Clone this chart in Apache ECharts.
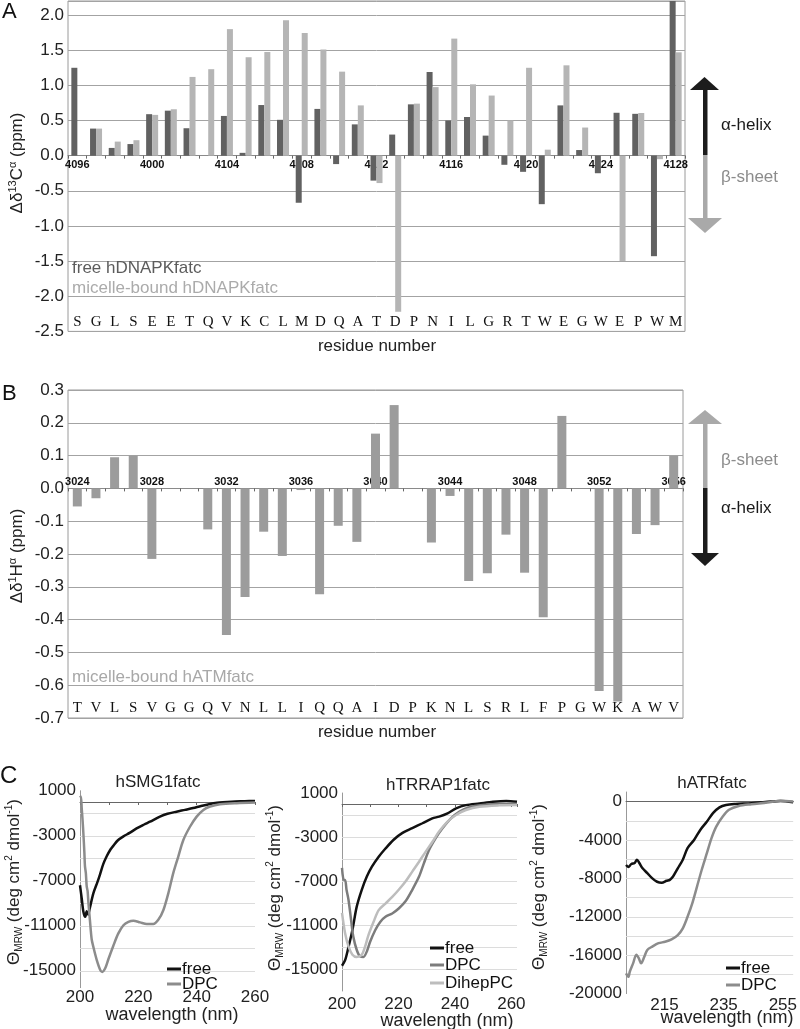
<!DOCTYPE html>
<html><head><meta charset="utf-8">
<script src="https://cdn.jsdelivr.net/npm/echarts@6/dist/echarts.min.js"></script>
<style>html,body{margin:0;padding:0;background:#fff}#c{width:800px;height:1029px}</style>
</head><body><div id="c"></div>
<script>
const FONT = '"Liberation Sans", Arial, sans-serif';
const SERIF = '"Liberation Serif", "DejaVu Serif", serif';

// ---- Panel A ----
const aResidues = ['S','G','L','S','E','E','T','Q','V','K','C','L','M','D','Q','A','T','D','P','N','I','L','G','R','T','W','E','G','W','E','P','W','M'];
const aTickLabels = ['4096','4000','4104','4108','4112','4116','4120','4124','4128'];
const aFree = [1.25,0.385,0.11,0.165,0.59,0.64,0.39,0,0.565,0.04,0.72,0.51,-0.67,0.665,-0.12,0.445,-0.355,0.30,0.73,1.19,0.50,0.55,0.285,-0.13,-0.23,-0.69,0.715,0.08,-0.25,0.61,0.595,-1.43,2.4];
const aMicelle = [0,0.385,0.2,0.22,0.58,0.66,1.12,1.23,1.8,1.4,1.475,1.925,1.745,1.51,1.195,0.715,-0.39,-2.22,0.74,0.975,1.665,1.015,0.855,0.50,1.25,0.085,1.285,0.40,0,-1.5,0.607,-0.05,1.47];

// ---- Panel B ----
const bResidues = ['T','V','L','S','V','G','G','Q','V','N','L','L','I','Q','Q','A','I','D','P','K','N','L','S','R','L','F','P','G','W','K','A','W','V'];
const bTickLabels = ['3024','3028','3032','3036','3040','3044','3048','3052','3056'];
const bMicelle = [-0.055,-0.03,0.095,0.10,-0.215,0,0,-0.125,-0.447,-0.331,-0.132,-0.206,-0.005,-0.323,-0.114,-0.163,0.167,0.254,0,-0.165,-0.023,-0.282,-0.259,-0.141,-0.257,-0.393,0.221,0,-0.618,-0.65,-0.139,-0.112,0.099];

// ---- Panel C ----
const c1Free = [[200,-7400],[200.6,-8600],[201.2,-9800],[201.8,-10200],[202.3,-9700],[202.8,-10000],[203.3,-9500],[204.6,-8100],[206,-7100],[206.9,-6400],[208,-5500],[209.2,-4800],[210.5,-4200],[211.4,-3900],[213,-3400],[214.9,-3050],[217,-2750],[219.4,-2350],[222,-2000],[224,-1750],[227.4,-1300],[230,-1050],[233.1,-860],[236,-700],[238.8,-540],[241.5,-350],[244.6,-170],[247,-70],[249,-20],[252,30],[255,60],[258,80],[260,90]];
const c1DPC = [[200,400],[200.3,500],[200.6,-600],[200.9,-1700],[201.2,-3000],[201.5,-4500],[201.7,-5700],[202,-6300],[202.3,-7500],[202.6,-7900],[202.9,-9000],[203.4,-10500],[204,-12200],[204.6,-12900],[205.7,-14000],[206.9,-14900],[207.6,-15100],[208.6,-14800],[209.7,-14000],[211.4,-12800],[213.1,-11700],[214.9,-10950],[216.6,-10650],[218.3,-10550],[220.6,-10700],[222.9,-10850],[225.1,-10850],[226.9,-10450],[228.6,-9600],[230.3,-8100],[232,-6300],[233.7,-4850],[235.4,-3400],[237.7,-2200],[240,-1300],[242.3,-700],[244.6,-400],[248,-200],[253.7,-100],[260,-50]];
const c2Free = [[200,-14700],[201.1,-14200],[202.3,-13000],[203.7,-11450],[205.2,-9350],[207,-7800],[208.8,-6600],[210.6,-5700],[213,-4800],[215.4,-4050],[218.3,-3250],[221.3,-2650],[224.9,-2200],[228.5,-1750],[232,-1300],[234.4,-1150],[237.4,-850],[240.4,-400],[243.9,-100],[248.7,50],[253.5,200],[258.2,270],[262,200]];
const c2DPC = [[200,-5800],[200.6,-6900],[201.1,-6900],[201.6,-7800],[202.3,-8700],[203.2,-10500],[204,-12050],[205.2,-13250],[206.4,-13850],[207.6,-13900],[208.8,-13400],[210,-12500],[211.8,-11450],[213.6,-10700],[215.4,-10250],[217.8,-9950],[220.1,-9500],[222.5,-8850],[224.9,-7800],[227.3,-6600],[229,-5400],[230.8,-4200],[233.2,-3100],[235.6,-2200],[238.6,-1300],[241.5,-700],[245.1,-300],[249.9,-100],[255.8,0],[262,0]];
const c2DihepPC = [[200,-9900],[201.1,-11750],[202.3,-12950],[203.7,-13700],[205.2,-13900],[207,-13700],[208.2,-12950],[209.4,-11900],[211.2,-10700],[213,-9650],[215.4,-9050],[217.8,-8450],[220.1,-7800],[222.5,-7050],[224.9,-6150],[227.3,-5250],[229.6,-4350],[232,-3450],[234.4,-2500],[237.4,-1600],[240.4,-1000],[243.9,-550],[248.7,-250],[255.8,-120],[262,-90]];
const c3Free = [[202,-6600],[202.8,-6800],[203.8,-6500],[204.9,-6400],[205.7,-6050],[206.5,-6400],[207.6,-6950],[209.2,-7450],[210.9,-8000],[212.5,-8350],[214.1,-8450],[215.7,-8250],[216.8,-8150],[217.9,-7800],[219.5,-6950],[221.2,-6050],[222.8,-4850],[225,-4000],[227.1,-2950],[229.3,-2100],[231.4,-1200],[233.6,-600],[235.8,-350],[239,-250],[244.4,-170],[250.9,0],[254.2,70],[258.5,-60]];
const c3DPC = [[202,-17900],[202.8,-18250],[203.3,-17700],[204.4,-16850],[205.5,-15950],[206.3,-16300],[207.1,-16850],[208.2,-16150],[209.2,-15450],[210.9,-15100],[213,-14750],[215.2,-14600],[217.4,-14350],[219.5,-13900],[221.2,-13200],[222.8,-12000],[224.4,-10600],[226,-8850],[227.6,-7100],[229.3,-5400],[230.9,-3800],[232.5,-2600],[234.7,-1550],[236.8,-850],[240.1,-450],[244.4,-270],[249.8,-100],[254.2,100],[258.5,0]];

const c12YLabels = [1000,-3000,-7000,-11000,-15000];
const c12GridLines = [-1000,-3000,-5000,-7000,-9000,-11000,-13000,-15000];
const c3YLabels = [0,-4000,-8000,-12000,-16000,-20000];
const c3GridLines = [-2000,-4000,-6000,-8000,-10000,-12000,-14000,-16000,-18000];
const c12XLabels = [200,220,240,260];
const c3XLabels = [215,235,255];

const chart = echarts.init(document.getElementById('c'), null, {renderer:'canvas'});

// grid geometry and value ranges
const G = [
  {left:68, top:1, width:617, height:330.4, ymin:-2.5, ymax:2.2},
  {left:68, top:390, width:615, height:328, ymin:-0.7, ymax:0.3},
  {left:80, top:790.75, width:175, height:196.9, ymin:-16500, ymax:1000},
  {left:342, top:793, width:175, height:198, ymin:-17000, ymax:1000},
  {left:626, top:792, width:174, height:201.6, ymin:-20000, ymax:1000}
];
// offset (px, negative = upward) that places a bottom axis at value 0 of the grid's y scale
function zeroOffset(g) { return -(0 - g.ymin) / (g.ymax - g.ymin) * g.height; }

function resAxis(grid, data, margin) {
  return {type:'category', gridIndex:grid, data:data, position:'bottom',
    axisLine:{show:false,onZero:false}, axisTick:{show:false}, splitLine:{show:false},
    axisLabel:{inside:true, interval:0, margin:margin, fontFamily:SERIF, fontSize:15, color:'#111'}};
}
function numAxis(grid, data, ticks, inside, margin) {
  return {type:'category', gridIndex:grid, data:data, position:'bottom', offset:zeroOffset(G[grid]),
    axisLine:{show:true,onZero:false,lineStyle:{color:'#8a8a8a',width:1}},
    axisTick:{show:true,length:3,interval:0,lineStyle:{color:'#666'}},
    axisLabel:{inside:inside, interval:0, margin:margin, fontFamily:FONT, fontWeight:'bold', fontSize:11, color:'#111',
      formatter:(v,i)=> i%4===0 ? ticks[i/4] : ''}};
}
function zeroAxis(grid, min, max, ticks) {
  return {type:'value', gridIndex:grid, min:min, max:max, interval:10, position:'bottom', offset:zeroOffset(G[grid]),
    axisLine:{show:true,onZero:false,lineStyle:{color:'#666',width:1}},
    axisTick:{show:ticks,length:3,lineStyle:{color:'#666'}},
    axisLabel:{show:false}, splitLine:{show:false}};
}
function labelAxis(grid, min, max, labels, margin) {
  return {type:'value', gridIndex:grid, min:min, max:max, interval:1, position:'bottom',
    axisLine:{show:false,onZero:false}, axisTick:{show:false}, splitLine:{show:false},
    axisLabel:{margin:margin, fontFamily:FONT, fontSize:17, color:'#222', showMinLabel:true, showMaxLabel:true,
      formatter:v=> labels.indexOf(v)>=0 ? String(v) : ''}};
}
function cYAxis(grid, labels) {
  return {type:'value', gridIndex:grid, min:G[grid].ymin, max:G[grid].ymax, interval:500,
    axisLine:{show:true,onZero:false,lineStyle:{color:'#999'}}, axisTick:{show:false}, splitLine:{show:false},
    axisLabel:{margin:4, fontFamily:FONT, fontSize:17, color:'#222', showMaxLabel:true,
      formatter:v=> labels.indexOf(v)>=0 ? String(v) : ''}};
}
function gridMark(lines) {
  return {silent:true, symbol:['none','none'], animation:false, z:1,
    label:{show:false}, lineStyle:{color:'#dcdcdc', width:1, type:'solid'},
    data: lines.map(v=>({yAxis:v}))};
}
function cLine(name, xi, yi, data, color, mark) {
  const s = {type:'line', name:name, xAxisIndex:xi, yAxisIndex:yi, data:data, symbol:'none', showSymbol:false,
    smooth:0.3, z:3, lineStyle:{color:color, width:2.5}, itemStyle:{color:color}};
  if (mark) s.markLine = mark;
  return s;
}

const rot = Math.PI/2;
function txt(x, y, text, size, color, opts) {
  return Object.assign({type:'text', x:x, y:y, z:100,
    style:Object.assign({text:text, fontSize:size, fontFamily:FONT, fill:color, align:'left', verticalAlign:'middle'}, (opts&&opts.style)||{})},
    (opts&&opts.el)||{});
}
const cTitleRich = {n:{fontSize:17,fontFamily:FONT,fill:'#222',lineHeight:20}, sub:{fontSize:10,fontFamily:FONT,fill:'#222',lineHeight:10,verticalAlign:'bottom'}, sup:{fontSize:10,fontFamily:FONT,fill:'#222',lineHeight:10,verticalAlign:'top'}};
const cTitle = '{n|\u0398}{sub|MRW}{n| (deg cm}{sup|2}{n| dmol}{sup|-1}{n|)}';
function rotTitle(x, y, text, rich) {
  return {type:'text', x:x, y:y, rotation:rot, z:100,
    style:{text:text, rich:rich, align:'center', verticalAlign:'middle', fontFamily:FONT, fontSize:17, fill:'#222'}};
}
function legendLine(x, y, color, label) {
  return [
    {type:'rect', shape:{x:x, y:y-1.5, width:14, height:3}, style:{fill:color}, z:100},
    txt(x+15, y, label, 17, '#111')
  ];
}
const abRich = {n:{fontSize:17,fontFamily:FONT,fill:'#222',lineHeight:20}, sup:{fontSize:11,fontFamily:FONT,fill:'#222',lineHeight:11,verticalAlign:'top'}};

const option = {
  animation:false,
  textStyle:{fontFamily:FONT},
  grid:[
    {left:G[0].left, top:G[0].top, width:G[0].width, height:G[0].height, show:true, borderColor:'#9a9a9a', borderWidth:1},
    {left:G[1].left, top:G[1].top, width:G[1].width, height:G[1].height, show:true, borderColor:'#9a9a9a', borderWidth:1},
    {left:G[2].left, top:G[2].top, width:G[2].width, height:G[2].height},
    {left:G[3].left, top:G[3].top, width:G[3].width, height:G[3].height},
    {left:G[4].left, top:G[4].top, width:G[4].width, height:G[4].height}
  ],
  xAxis:[
    numAxis(0, aResidues, aTickLabels, false, 4),
    resAxis(0, aResidues, 2),
    numAxis(1, bResidues, bTickLabels, true, 1),
    resAxis(1, bResidues, 2),
    zeroAxis(2, 200, 260, true),
    labelAxis(2, 200, 260, c12XLabels, 1),
    zeroAxis(3, 200, 262, true),
    labelAxis(3, 200, 262, c12XLabels, 5),
    zeroAxis(4, 202, 258.5, false),
    labelAxis(4, 202, 258.5, c3XLabels, 3)
  ],
  yAxis:[
    {type:'value', gridIndex:0, min:G[0].ymin, max:G[0].ymax, interval:0.5,
      axisLine:{show:false,onZero:false}, axisTick:{show:false},
      splitLine:{show:true,lineStyle:{color:'#a3a3a3',width:1}},
      axisLabel:{margin:4, fontFamily:FONT, fontSize:17, color:'#222', showMaxLabel:false, formatter:v=>v.toFixed(1)}},
    {type:'value', gridIndex:1, min:G[1].ymin, max:G[1].ymax, interval:0.1,
      axisLine:{show:false,onZero:false}, axisTick:{show:false},
      splitLine:{show:true,lineStyle:{color:'#a3a3a3',width:1}},
      axisLabel:{margin:4, fontFamily:FONT, fontSize:17, color:'#222', formatter:v=>v.toFixed(1)}},
    cYAxis(2, c12YLabels),
    cYAxis(3, c12YLabels),
    cYAxis(4, c3YLabels)
  ],
  series:[
    {type:'bar', name:'free hDNAPKfatc', xAxisIndex:0, yAxisIndex:0, data:aFree, barWidth:6, barGap:'0%', itemStyle:{color:'#616161'}},
    {type:'bar', name:'micelle-bound hDNAPKfatc', xAxisIndex:0, yAxisIndex:0, data:aMicelle, barWidth:6, barGap:'0%', itemStyle:{color:'#b5b5b5'}},
    {type:'bar', name:'micelle-bound hATMfatc', xAxisIndex:2, yAxisIndex:1, data:bMicelle, barWidth:9, itemStyle:{color:'#9c9c9c'}},
    cLine('free', 4, 2, c1Free, '#111', gridMark(c12GridLines)),
    cLine('DPC', 4, 2, c1DPC, '#8c8c8c'),
    cLine('free', 6, 3, c2Free, '#111', gridMark(c12GridLines)),
    cLine('DPC', 6, 3, c2DPC, '#7c7c7c'),
    cLine('DihepPC', 6, 3, c2DihepPC, '#bdbdbd'),
    cLine('free', 8, 4, c3Free, '#111', gridMark(c3GridLines)),
    cLine('DPC', 8, 4, c3DPC, '#8c8c8c')
  ],
  graphic:[
    txt(2, 12, 'A', 22, '#111'),
    txt(2, 394, 'B', 22, '#111'),
    txt(0, 776, 'C', 24, '#111'),
    rotTitle(17, 163, '{n|\u0394\u03b4}{sup|13}{n|C}{sup|\u03b1}{n| (ppm)}', abRich),
    rotTitle(17, 556, '{n|\u0394\u03b4}{sup|1}{n|H}{sup|\u03b1}{n| (ppm)}', abRich),
    txt(377, 346, 'residue number', 17, '#222', {style:{align:'center'}}),
    txt(377, 732, 'residue number', 17, '#222', {style:{align:'center'}}),
    txt(72, 268, 'free hDNAPKfatc', 17, '#5c5c5c'),
    txt(72, 288, 'micelle-bound hDNAPKfatc', 17, '#ababab'),
    txt(72, 677, 'micelle-bound hATMfatc', 17, '#a8a8a8'),
    // arrows A
    {type:'polygon', shape:{points:[[690,90],[719,90],[704.5,77]]}, style:{fill:'#1c1c1c'}, z:100},
    {type:'rect', shape:{x:703, y:90, width:4.5, height:65}, style:{fill:'#1c1c1c'}, z:100},
    {type:'rect', shape:{x:703, y:155, width:4.5, height:63}, style:{fill:'#a9a9a9'}, z:100},
    {type:'polygon', shape:{points:[[688,218],[722,218],[705,233]]}, style:{fill:'#a9a9a9'}, z:100},
    txt(721, 125, '\u03b1-helix', 17, '#1a1a1a'),
    txt(721, 177, '\u03b2-sheet', 17, '#8c8c8c'),
    // arrows B
    {type:'polygon', shape:{points:[[688,424],[722,424],[705,410]]}, style:{fill:'#a9a9a9'}, z:100},
    {type:'rect', shape:{x:703, y:424, width:4.5, height:64}, style:{fill:'#a9a9a9'}, z:100},
    {type:'rect', shape:{x:703, y:488, width:4.5, height:65}, style:{fill:'#1c1c1c'}, z:100},
    {type:'polygon', shape:{points:[[691,553],[719,553],[705,566]]}, style:{fill:'#1c1c1c'}, z:100},
    txt(721, 460, '\u03b2-sheet', 17, '#8c8c8c'),
    txt(721, 508, '\u03b1-helix', 17, '#1a1a1a'),
    // panel C titles
    txt(158, 782, 'hSMG1fatc', 17, '#222', {style:{align:'center'}}),
    txt(438, 785, 'hTRRAP1fatc', 17, '#222', {style:{align:'center'}}),
    txt(712, 783, 'hATRfatc', 17, '#222', {style:{align:'center'}}),
    txt(172, 1015, 'wavelength (nm)', 18, '#222', {style:{align:'center'}}),
    txt(447, 1021, 'wavelength (nm)', 18, '#222', {style:{align:'center'}}),
    txt(727, 1018, 'wavelength (nm)', 18, '#222', {style:{align:'center'}}),
    rotTitle(14, 882, cTitle, cTitleRich),
    rotTitle(275, 888, cTitle, cTitleRich),
    rotTitle(539, 887, cTitle, cTitleRich)
  ].concat(legendLine(167, 969, '#111', 'free'), legendLine(167, 984, '#8c8c8c', 'DPC'),
           legendLine(430, 948, '#111', 'free'), legendLine(430, 965, '#7c7c7c', 'DPC'), legendLine(430, 983, '#bdbdbd', 'DihepPC'),
           legendLine(726, 968, '#111', 'free'), legendLine(726, 985, '#8c8c8c', 'DPC'))
};
chart.setOption(option);
</script></body></html>
